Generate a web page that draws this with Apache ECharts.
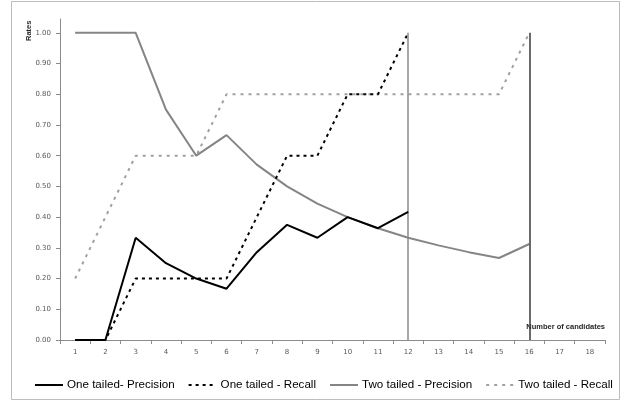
<!DOCTYPE html>
<html>
<head>
<meta charset="utf-8">
<script src="https://cdn.jsdelivr.net/npm/echarts@6/dist/echarts.min.js"></script>
<style>
  html, body { margin: 0; padding: 0; background: #fff; }
  #chart { width: 621px; height: 402px; }
</style>
</head>
<body>
<div id="chart"></div>
<script>
// Number of candidates on the x axis
const candidates = ['1','2','3','4','5','6','7','8','9','10','11','12','13','14','15','16','17','18'];
const yTicks = [0, 0.1, 0.2, 0.3, 0.4, 0.5, 0.6, 0.7, 0.8, 0.9, 1.0];

const oneTailedPrecision = [0, 0, 0.333, 0.25, 0.20, 0.167, 0.286, 0.375, 0.333, 0.40, 0.364, 0.417];
const oneTailedRecall    = [0, 0, 0.20, 0.20, 0.20, 0.20, 0.40, 0.60, 0.60, 0.80, 0.80, 1.00];
const twoTailedPrecision = [1.00, 1.00, 1.00, 0.75, 0.60, 0.667, 0.571, 0.50, 0.444, 0.40, 0.364, 0.333, 0.308, 0.286, 0.267, 0.3125];
const twoTailedRecall    = [0.20, 0.40, 0.60, 0.60, 0.60, 0.80, 0.80, 0.80, 0.80, 0.80, 0.80, 0.80, 0.80, 0.80, 0.80, 1.00];

// Cut-off markers (candidate, top rate, colour)
const cutoffs = [['12', 1.0, '#8a8a8a'], ['16', 1.0, '#3a3a3a']];

const axisGray = '#8c8c8c';
const labelGray = '#595959';

const chart = echarts.init(document.getElementById('chart'), null, { renderer: 'canvas' });

chart.setOption({
  animation: false,
  backgroundColor: '#fff',
  graphic: [
    {
      type: 'rect',
      shape: { x: 11.5, y: 1.5, width: 608, height: 398 },
      style: { fill: 'none', stroke: '#bdbdbd', lineWidth: 1 },
      silent: true, z: -1
    },
    {
      type: 'text',
      x: 25, y: 41,
      rotation: Math.PI / 2,
      style: {
        text: 'Rates',
        font: 'bold 7.5px "Liberation Sans"',
        fill: '#262626',
        align: 'left',
        verticalAlign: 'top'
      }
    }
  ],
  grid: { left: 60, right: 16, top: 19, bottom: 62, containLabel: false },
  legend: {
    left: 29,
    right: 0,
    top: 374,
    itemWidth: 28,
    itemHeight: 10,
    itemGap: 13,
    itemStyle: { opacity: 0 },
    textStyle: { fontFamily: 'Liberation Sans', fontSize: 11.6, color: '#000', padding: [0, 0, 0, -1] },
    data: ['One tailed- Precision', 'One tailed - Recall', 'Two tailed - Precision', 'Two tailed - Recall']
  },
  xAxis: {
    type: 'category',
    data: candidates,
    boundaryGap: true,
    name: 'Number of candidates',
    nameLocation: 'end',
    nameGap: 0,
    nameTextStyle: {
      fontFamily: 'Liberation Sans', fontWeight: 'bold', fontSize: 7.5, color: '#262626',
      align: 'right', verticalAlign: 'bottom', padding: [0, 0, 9, 0]
    },
    axisLine: { lineStyle: { color: axisGray, width: 1 } },
    axisTick: { show: true, length: 4, lineStyle: { color: axisGray } },
    axisLabel: { fontFamily: 'DejaVu Sans', fontSize: 7, color: labelGray, margin: 9 },
    splitLine: { show: false }
  },
  yAxis: {
    type: 'value',
    min: 0,
    max: 1.045,
    axisLine: { show: true, lineStyle: { color: axisGray, width: 1 } },
    axisTick: { show: true, length: 4, lineStyle: { color: axisGray }, customValues: yTicks },
    axisLabel: {
      fontFamily: 'DejaVu Sans', fontSize: 7, color: labelGray, margin: 9,
      customValues: yTicks,
      formatter: v => v.toFixed(2)
    },
    splitLine: { show: false }
  },
  series: [
    {
      name: 'One tailed- Precision',
      type: 'line',
      data: oneTailedPrecision,
      symbol: 'none',
      lineStyle: { color: '#000', width: 2 },
      itemStyle: { color: '#000' },
      z: 5
    },
    {
      name: 'One tailed - Recall',
      type: 'line',
      data: oneTailedRecall,
      symbol: 'none',
      lineStyle: { color: '#000', width: 2, type: [3, 4] },
      itemStyle: { color: '#000' },
      z: 4,
      markLine: {
        silent: true,
        symbol: 'none',
        label: { show: false },
        data: cutoffs.map(c => [
          { coord: [c[0], 0], lineStyle: { color: c[2], width: 1.5, type: 'solid' } },
          { coord: [c[0], c[1]] }
        ])
      }
    },
    {
      name: 'Two tailed - Precision',
      type: 'line',
      data: twoTailedPrecision,
      symbol: 'none',
      lineStyle: { color: '#858585', width: 2 },
      itemStyle: { color: '#858585' },
      z: 3
    },
    {
      name: 'Two tailed - Recall',
      type: 'line',
      data: twoTailedRecall,
      symbol: 'none',
      lineStyle: { color: '#a0a0a0', width: 2, type: [3, 5] },
      itemStyle: { color: '#a0a0a0' },
      z: 2
    }
  ]
});
</script>
</body>
</html>
